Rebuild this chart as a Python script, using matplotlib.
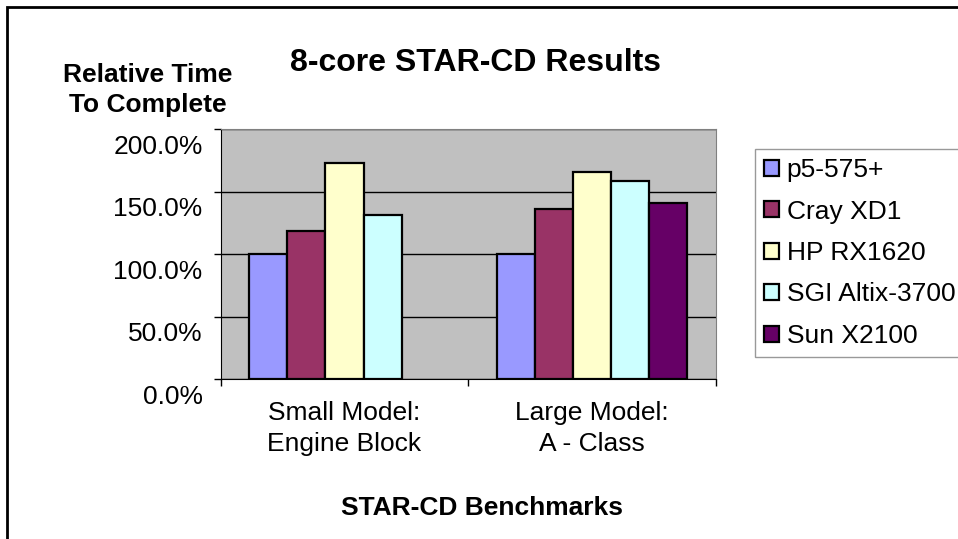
import matplotlib
matplotlib.use('Agg')
import matplotlib.pyplot as plt
import matplotlib.transforms as mtransforms
from matplotlib.patches import Rectangle
from matplotlib.ticker import PercentFormatter, FixedLocator
import numpy as np

plt.rcParams['font.family'] = ['Liberation Sans', 'DejaVu Sans']

categories = ['Small Model:\nEngine Block', 'Large Model:\nA - Class']
systems = ['p5-575+', 'Cray XD1', 'HP RX1620', 'SGI Altix-3700', 'Sun X2100']
# relative time to complete (1.0 = 100%), Sun has no small model run
p5_575 = [1.00, 1.00]
cray_xd1 = [1.185, 1.36]
hp_rx1620 = [1.73, 1.66]
sgi_altix = [1.31, 1.585]
sun_x2100 = [np.nan, 1.405]
colors = ['#9999FF', '#993366', '#FFFFCC', '#CCFFFF', '#660066']

series = [p5_575, cray_xd1, hp_rx1620, sgi_altix, sun_x2100]

fig = plt.figure(figsize=(9.58, 5.39), dpi=100)
W, H = 958, 539
ax = fig.add_axes([220.7 / W, 1 - 379 / H, 495.3 / W, 250 / H])
ax.set_facecolor('#C0C0C0')

x = np.arange(len(categories))
w = 1 / 6.5
for j, (name, vals) in enumerate(zip(systems, series)):
    ax.bar(x + (j - 2) * w, vals, w, color=colors[j], edgecolor='black',
           linewidth=1.6, label=name, zorder=3)

ax.set_xlim(-0.5, 1.5)
ax.set_ylim(0, 2.0)
ax.set_yticks([0, 0.5, 1.0, 1.5, 2.0])
ax.yaxis.set_major_formatter(PercentFormatter(1.0, decimals=1))
ax.yaxis.grid(True, color='black', linewidth=1, zorder=1)
ax.set_axisbelow(True)

ax.spines['top'].set_color('#808080')
ax.spines['right'].set_color('#808080')
ax.spines['left'].set_color('black')
ax.spines['bottom'].set_color('black')

ax.tick_params(axis='y', direction='out', length=5, width=1, pad=8, labelsize=19)
# excel puts the value labels a little below their gridline
offset = mtransforms.ScaledTranslation(0, -15 / 100, fig.dpi_scale_trans)
for lab in ax.get_yticklabels():
    lab.set_transform(lab.get_transform() + offset)

ax.set_xticks(x)
ax.set_xticklabels(categories, fontsize=19, linespacing=1.35)
ax.tick_params(axis='x', which='major', length=0, pad=16)
ax.xaxis.set_minor_locator(FixedLocator([-0.5, 0.5, 1.5]))
ax.tick_params(axis='x', which='minor', direction='out', length=5, width=1)

ax.set_xlabel('STAR-CD Benchmarks', fontsize=19, fontweight='bold')
ax.xaxis.label.set_va('center')
ax.xaxis.set_label_coords((482 - 220.7) / 495.3, -(508 - 379) / 250)

ax.set_ylabel('Relative Time\nTo Complete', fontsize=19, fontweight='bold',
              rotation=0, ha='center', va='center', linespacing=1.3)
ax.yaxis.set_label_coords((147.5 - 220.7) / 495.3, (379 - 90) / 250)

fig.suptitle('8-core STAR-CD Results', x=476 / W, y=1 - 63 / H, va='center',
             fontsize=23, fontweight='bold')

leg = fig.legend(loc='upper left', bbox_to_anchor=(755 / W, 1 - 149 / H),
                 fontsize=19, frameon=True, fancybox=False, borderpad=0.35,
                 handlelength=0.55, handleheight=0.55, handletextpad=0.3,
                 labelspacing=0.66, borderaxespad=0)
leg.get_frame().set_edgecolor('#808080')
leg.get_frame().set_linewidth(1)

fig.patches.append(Rectangle((6.5 / W, -0.5), 2, 1.5 - 6.5 / H, transform=fig.transFigure,
                             fill=False, edgecolor='black', linewidth=2))

fig.savefig('out.png', dpi=100)
